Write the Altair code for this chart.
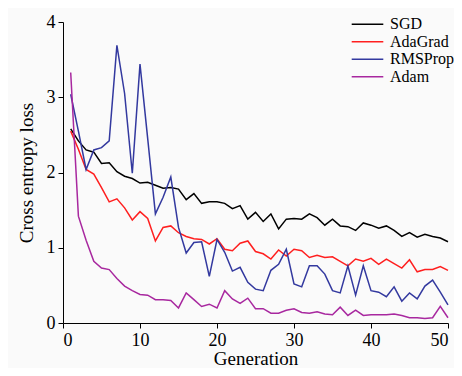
import altair as alt
import pandas as pd

generations = list(range(1, 51))

sgd = [2.58, 2.42, 2.30, 2.27, 2.12, 2.13, 2.01, 1.95, 1.92, 1.86,
       1.87, 1.83, 1.79, 1.80, 1.78, 1.64, 1.72, 1.59, 1.61, 1.61,
       1.59, 1.52, 1.56, 1.38, 1.47, 1.35, 1.45, 1.25, 1.38, 1.39,
       1.38, 1.45, 1.40, 1.30, 1.38, 1.29, 1.28, 1.23, 1.33, 1.30,
       1.26, 1.29, 1.23, 1.15, 1.20, 1.14, 1.18, 1.15, 1.13, 1.08]

adagrad = [2.55, 2.31, 2.04, 1.98, 1.80, 1.61, 1.65, 1.53, 1.37, 1.48,
           1.39, 1.09, 1.27, 1.29, 1.20, 1.15, 1.12, 1.11, 1.05, 1.12,
           0.98, 0.96, 1.06, 1.09, 0.95, 0.92, 0.85, 0.97, 0.89, 0.98,
           0.96, 0.87, 0.90, 0.87, 0.88, 0.82, 0.76, 0.85, 0.82, 0.86,
           0.78, 0.85, 0.79, 0.73, 0.84, 0.68, 0.71, 0.71, 0.75, 0.70]

rmsprop = [3.04, 2.55, 2.04, 2.30, 2.33, 2.42, 3.69, 3.05, 1.99, 3.44,
           2.45, 1.45, 1.67, 1.94, 1.27, 0.93, 1.07, 1.08, 0.62, 1.11,
           0.94, 0.69, 0.74, 0.54, 0.45, 0.43, 0.70, 0.78, 0.98, 0.52,
           0.48, 0.76, 0.76, 0.65, 0.43, 0.40, 0.76, 0.37, 0.76, 0.43,
           0.41, 0.35, 0.48, 0.29, 0.40, 0.32, 0.49, 0.57, 0.41, 0.24]

adam = [3.33, 1.42, 1.10, 0.82, 0.73, 0.71, 0.59, 0.49, 0.43, 0.38,
        0.37, 0.31, 0.31, 0.30, 0.20, 0.40, 0.31, 0.22, 0.25, 0.20,
        0.43, 0.32, 0.26, 0.33, 0.19, 0.19, 0.13, 0.13, 0.17, 0.19,
        0.14, 0.13, 0.15, 0.12, 0.11, 0.21, 0.10, 0.17, 0.10, 0.11,
        0.11, 0.11, 0.12, 0.10, 0.07, 0.07, 0.06, 0.07, 0.22, 0.07]

series_names = ["SGD", "AdaGrad", "RMSProp", "Adam"]
series_colors = ["#000000", "#ff1f1f", "#33399f", "#a8289f"]
series_values = [sgd, adagrad, rmsprop, adam]

rows = []
for name, vals in zip(series_names, series_values):
    for g, v in zip(generations, vals):
        rows.append({"Generation": g, "Loss": v, "Optimizer": name})
df = pd.DataFrame(rows)

legend_df = pd.DataFrame({"Optimizer": series_names,
                          "row": list(range(len(series_names)))})

FONT = "Liberation Serif"
color_scale = alt.Scale(domain=series_names, range=series_colors)

lines = alt.Chart(df).mark_line(strokeWidth=1.5).encode(
    x=alt.X("Generation:Q",
            scale=alt.Scale(domain=[0, 50], nice=False),
            axis=alt.Axis(values=[0, 10, 20, 30, 40, 50], title="Generation")),
    y=alt.Y("Loss:Q",
            scale=alt.Scale(domain=[0, 4], nice=False),
            axis=alt.Axis(values=[0, 1, 2, 3, 4], title="Cross entropy loss")),
    color=alt.Color("Optimizer:N", scale=color_scale, legend=None),
    order=alt.Order("Generation:Q"),
)

legend_y = alt.Y("row:Q", scale=alt.Scale(domain=[0, 3], range=[2.3, 54.7]), axis=None)

legend_lines = alt.Chart(legend_df).mark_rule(strokeWidth=1.5).encode(
    x=alt.value(288.7),
    x2=alt.value(320.3),
    y=legend_y,
    color=alt.Color("Optimizer:N", scale=color_scale, legend=None),
)

legend_text = alt.Chart(legend_df).mark_text(
    align="left", baseline="middle", font=FONT, fontSize=16, color="#000000"
).encode(
    x=alt.value(327),
    y=legend_y,
    text="Optimizer:N",
)

chart = alt.layer(lines, legend_lines, legend_text).resolve_scale(
    y="independent"
).properties(
    width=385,
    height=301,
    autosize=alt.AutoSizeParams(type="none"),
    padding={"left": 55, "top": 14, "right": 6, "bottom": 45},
    background="#fafafa",
).configure_view(
    stroke=None,
).configure_axis(
    grid=False,
    domainColor="#000000",
    domainWidth=1,
    tickColor="#000000",
    tickSize=5,
    tickWidth=1,
    labelFont=FONT,
    labelFontSize=18,
    labelColor="#000000",
    labelPadding=3,
    titleFont=FONT,
    titleFontSize=19,
    titleFontWeight="normal",
    titleColor="#000000",
).configure_axisX(
    titlePadding=0,
).configure_axisY(
    titlePadding=10,
)

chart.save("out.html", embed_options={"renderer": "svg", "actions": False})
